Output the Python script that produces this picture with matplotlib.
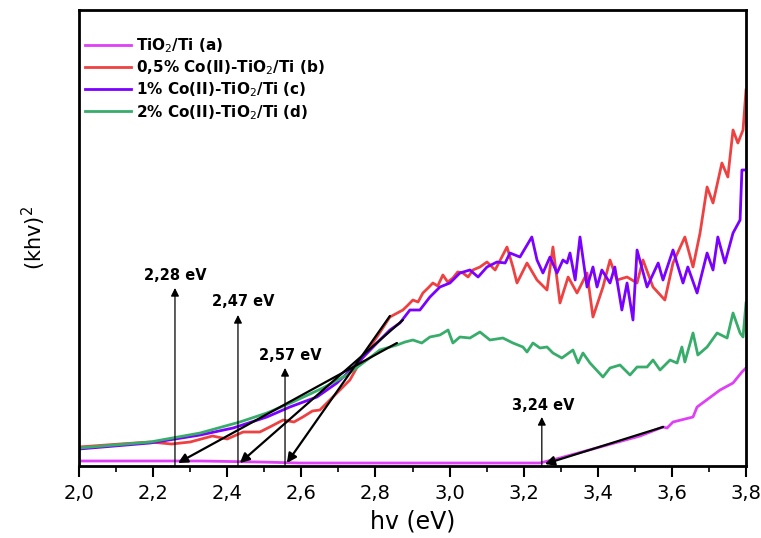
import matplotlib
matplotlib.use("Agg")
import matplotlib.pyplot as plt
from matplotlib.ticker import MultipleLocator, FuncFormatter

# ---------------- data (arbitrary units) ----------------
xa = [2.000, 2.327, 2.488, 2.596, 2.866, 3.136, 3.244, 3.298, 3.406, 3.514, 3.576,
      3.587, 3.603, 3.657, 3.668, 3.730, 3.765, 3.789, 3.800]
ya = [5, 5, 4, 3, 3, 3, 3, 8, 19, 30, 39, 38, 44, 49, 59, 76, 83, 94, 98]

xb = [2.000, 2.111, 2.192, 2.250, 2.300, 2.360, 2.400, 2.443, 2.488, 2.520, 2.551,
      2.580, 2.604, 2.630, 2.650, 2.696, 2.731,
      2.766, 2.804, 2.839, 2.874, 2.888, 2.901, 2.915, 2.928, 2.942, 2.955, 2.968,
      2.982, 2.995, 3.009, 3.022, 3.036, 3.050, 3.063, 3.082,
      3.101, 3.123, 3.155, 3.171, 3.182, 3.209, 3.236, 3.263, 3.279, 3.298, 3.320,
      3.344, 3.371, 3.387, 3.414, 3.433, 3.452, 3.479, 3.506, 3.522, 3.549, 3.581,
      3.603, 3.635, 3.657, 3.676, 3.695, 3.711, 3.735, 3.751, 3.765, 3.778, 3.792, 3.800]
yb = [19, 22, 24, 22, 24, 30, 27, 34, 34, 40, 46,
      44, 49, 55, 56, 73, 86,
      109, 129, 149, 156, 161, 166, 164, 173, 178, 183, 180,
      191, 184, 188, 194, 193, 189, 196, 199,
      204, 196, 219, 199, 183, 203, 186, 176, 219, 163, 189,
      173, 193, 149, 179, 206, 186, 189, 183, 206, 179, 166,
      203, 229, 199, 233, 279, 263, 303, 289, 336, 323, 336, 376]

xc = [2.000, 2.192, 2.327, 2.416, 2.507, 2.569, 2.642, 2.696, 2.739, 2.804, 2.839,
      2.866, 2.893, 2.920, 2.947, 2.974, 3.001, 3.028, 3.055, 3.077, 3.101, 3.128,
      3.150, 3.163, 3.190, 3.222, 3.236, 3.252, 3.271, 3.290, 3.306, 3.317, 3.325,
      3.339, 3.352, 3.371, 3.387, 3.398, 3.411, 3.433, 3.446, 3.465, 3.479, 3.495,
      3.506, 3.533, 3.563, 3.576, 3.603, 3.630, 3.643, 3.668, 3.695, 3.711, 3.724,
      3.743, 3.765, 3.784, 3.789, 3.800]
yc = [17, 23, 31, 38, 49, 59, 69, 83, 98, 123, 136,
      143, 156, 156, 169, 179, 183, 193, 196, 189, 199, 204,
      203, 213, 209, 229, 206, 193, 209, 193, 206, 203, 213,
      186, 229, 179, 199, 179, 196, 183, 199, 156, 183, 146,
      216, 179, 203, 186, 216, 183, 199, 173, 213, 196, 229,
      203, 233, 246, 296, 296]

xd = [2.000, 2.192, 2.327, 2.434, 2.507, 2.577, 2.658, 2.723, 2.777, 2.812, 2.858,
      2.880, 2.901, 2.925, 2.947, 2.974, 2.996, 3.009, 3.028, 3.055, 3.082, 3.109,
      3.144, 3.171,
      3.198, 3.209, 3.225, 3.244, 3.263, 3.279, 3.303, 3.333, 3.347, 3.360, 3.379,
      3.414, 3.433, 3.460, 3.487, 3.506, 3.533, 3.549, 3.568, 3.595, 3.614, 3.627,
      3.635, 3.657, 3.670, 3.695, 3.722, 3.749, 3.765, 3.784, 3.792, 3.800]
yd = [18, 24, 33, 44, 53, 64, 78, 91, 106, 116, 121,
      124, 126, 123, 129, 131, 136, 123, 129, 128, 134, 126,
      128, 123,
      119, 114, 123, 118, 119, 113, 108, 116, 103, 113, 103,
      89, 98, 101, 91, 99, 99, 106, 96, 106, 103, 119,
      104, 133, 111, 119, 133, 128, 153, 133, 129, 163]

labels = ["TiO$_2$/Ti (a)", "0,5% Co(II)-TiO$_2$/Ti (b)",
          "1% Co(II)-TiO$_2$/Ti (c)", "2% Co(II)-TiO$_2$/Ti (d)"]
colors = ["#E040F5", "#EE4242", "#7A00FF", "#38AD6B"]

# tangent lines: (x_top, y_top) -> (x_tip, y_tip)
tan_top_x = [2.858, 2.874, 2.839, 3.576]
tan_top_y = [123, 146, 150, 39]
tan_tip_x = [2.267, 2.434, 2.561, 3.257]
tan_tip_y = [3, 3, 3, 2]

# vertical arrows with band-gap labels
gap_x = [2.259, 2.429, 2.556, 3.249]
gap_top = [178, 151, 98, 49]
gap_text = ["2,28 eV", "2,47 eV", "2,57 eV", "3,24 eV"]
gap_text_x = [2.259, 2.443, 2.569, 3.252]
gap_text_y = [190, 164, 110, 61]

# ---------------- figure ----------------
plt.rcParams['font.family'] = ['DejaVu Sans']
plt.rcParams['mathtext.fontset'] = 'dejavusans'
fig = plt.figure(figsize=(7.61, 5.38), dpi=100)
ax = fig.add_axes([79/761, 1-466/538, 667/761, 456/538])

series = [(xa, ya), (xb, yb), (xc, yc), (xd, yd)]
for (x, y), lab, c in zip(series, labels, colors):
    ax.plot(x, y, color=c, lw=2.0, label=lab)

for tx0, ty0, tx1, ty1 in zip(tan_top_x, tan_top_y, tan_tip_x, tan_tip_y):
    ax.annotate("", xy=(tx1, ty1), xytext=(tx0, ty0),
                arrowprops=dict(arrowstyle='-|>', color='black', lw=1.6,
                                mutation_scale=14, shrinkA=0, shrinkB=0))

for gx, gt, txt, lx, ly in zip(gap_x, gap_top, gap_text, gap_text_x, gap_text_y):
    ax.annotate("", xy=(gx, gt), xytext=(gx, 0),
                arrowprops=dict(arrowstyle='-|>', color='black', lw=0.9,
                                mutation_scale=12, shrinkA=0, shrinkB=0))
    ax.text(lx, ly, txt, ha='center', va='center', fontsize=10.5, fontweight='bold')

ax.set_xlim(2.0, 3.8)
ax.set_ylim(0, 456)
ax.xaxis.set_major_locator(MultipleLocator(0.2))
ax.xaxis.set_minor_locator(MultipleLocator(0.1))
ax.xaxis.set_major_formatter(FuncFormatter(lambda v, p: f"{v:.1f}".replace('.', ',')))
ax.tick_params(axis='x', which='major', direction='out', length=8, width=1.5,
               labelsize=14, pad=5)
ax.tick_params(axis='x', which='minor', direction='out', length=4, width=1.2)
ax.set_yticks([])
for s in ax.spines.values():
    s.set_linewidth(2)

ax.set_xlabel("hv (eV)", fontsize=17, labelpad=5)
ax.set_ylabel("(khv)$^2$", fontsize=15, labelpad=22)

leg = ax.legend(loc='upper left', frameon=False,
                prop={'weight': 'bold', 'size': 11},
                handlelength=3.0, handletextpad=0.35, labelspacing=0.22,
                borderaxespad=0.0, bbox_to_anchor=(0.0, 0.955))

fig.savefig("out.png", dpi=100)
